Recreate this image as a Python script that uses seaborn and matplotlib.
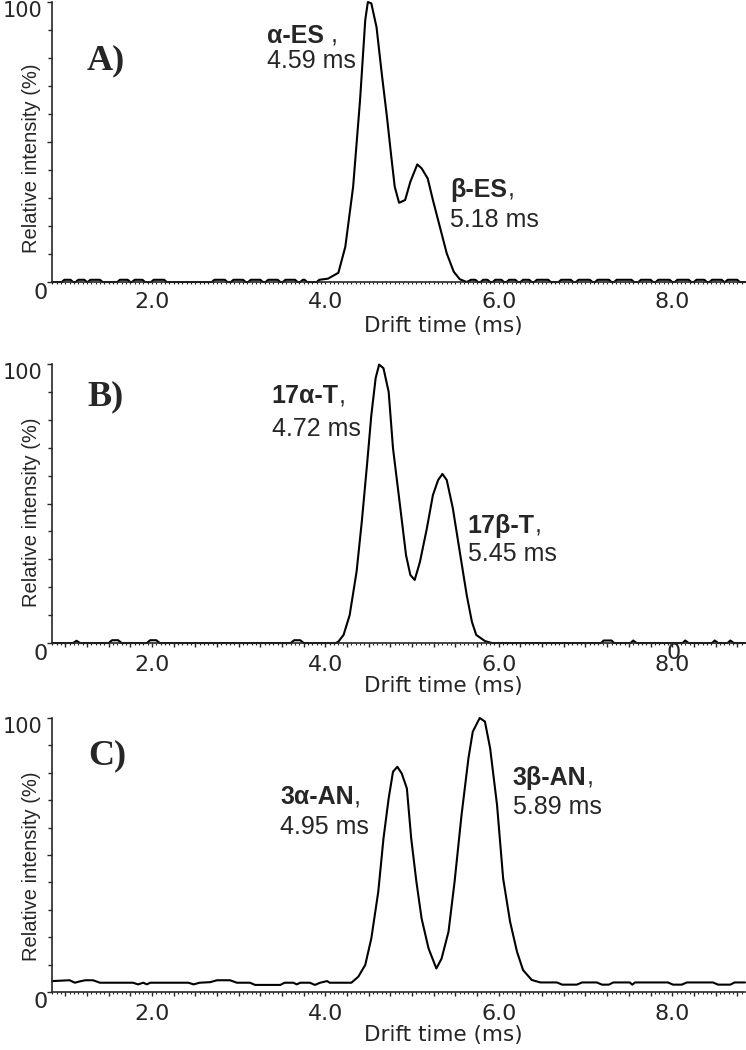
import matplotlib
matplotlib.use("Agg")
import matplotlib.pyplot as plt
import matplotlib.ticker as mticker
import pandas as pd
import seaborn as sns

# drift time (ms), relative intensity (%)
trace_a = [
    (0.85, 0), (0.96, 0), (0.99, 0.8), (1.06, 0.8), (1.09, 0), (1.12, 0), (1.15, 0.8), (1.22, 0.8),
    (1.25, 0), (1.26, 0), (1.29, 0.8), (1.40, 0.8), (1.43, 0), (1.60, 0), (1.63, 0.8), (1.72, 0.8),
    (1.75, 0), (1.77, 0), (1.80, 0.8), (1.89, 0.8), (1.92, 0), (1.99, 0), (2.02, 0.8), (2.14, 0.8),
    (2.17, 0), (2.69, 0), (2.72, 0.8), (2.84, 0.8), (2.87, 0), (2.91, 0), (2.94, 0.8), (3.05, 0.8),
    (3.08, 0), (3.11, 0), (3.14, 0.8), (3.25, 0.8), (3.28, 0), (3.31, 0), (3.34, 0.8), (3.45, 0.8),
    (3.48, 0), (3.51, 0), (3.54, 0.8), (3.65, 0.8), (3.68, 0), (3.71, 0), (3.74, 0.8), (3.76, 0.8),
    (3.79, 0), (3.90, 0), (3.93, 0.8), (4.03, 1.2),
    (4.15, 3.3), (4.23, 12.6), (4.32, 34), (4.40, 65), (4.46, 93.6), (4.49, 100), (4.53, 99.5),
    (4.59, 91), (4.65, 74.5), (4.71, 59), (4.76, 44.8), (4.80, 34), (4.85, 28.3), (4.92, 29.3),
    (4.98, 35.8), (5.06, 42), (5.11, 40.6), (5.18, 37), (5.24, 29.3), (5.32, 19.8), (5.40, 10.2),
    (5.48, 3.7), (5.55, 1.0), (5.63, 0),
    (5.68, 0.8), (5.73, 0.8), (5.76, 0), (5.79, 0), (5.82, 0.8), (5.87, 0.8), (5.90, 0), (5.93, 0),
    (5.96, 0.8), (6.03, 0.8), (6.06, 0), (6.09, 0), (6.12, 0.8), (6.19, 0.8), (6.22, 0), (6.25, 0),
    (6.28, 0.8), (6.35, 0.8), (6.38, 0), (6.41, 0), (6.44, 0.8), (6.57, 0.8), (6.60, 0), (6.69, 0),
    (6.72, 0.8), (6.83, 0.8), (6.86, 0), (6.89, 0), (6.92, 0.8), (7.05, 0.8), (7.08, 0), (7.11, 0),
    (7.14, 0.8), (7.27, 0.8), (7.30, 0), (7.33, 0), (7.36, 0.8), (7.53, 0.8), (7.56, 0), (7.61, 0),
    (7.64, 0.8), (7.75, 0.8), (7.78, 0), (7.81, 0), (7.84, 0.8), (7.97, 0.8), (8.00, 0), (8.03, 0),
    (8.06, 0.8), (8.19, 0.8), (8.22, 0), (8.25, 0), (8.28, 0.8), (8.37, 0.8), (8.40, 0), (8.43, 0),
    (8.46, 0.8), (8.57, 0.8), (8.60, 0), (8.61, 0), (8.64, 0.8), (8.75, 0.8), (8.78, 0), (8.84, 0),
]

trace_b = [
    (0.85, 0), (1.09, 0), (1.13, 0.8), (1.17, 0), (1.50, 0), (1.54, 1.0), (1.61, 1.0), (1.65, 0),
    (1.94, 0), (1.98, 1.0), (2.05, 1.0), (2.09, 0), (3.60, 0), (3.64, 1.0), (3.71, 1.0), (3.75, 0),
    (4.12, 0), (4.15, 0.5), (4.21, 2.9), (4.28, 10), (4.36, 25.6), (4.42, 43.5), (4.48, 63.8),
    (4.53, 81.7), (4.58, 95), (4.62, 99.8), (4.67, 98.5), (4.73, 90), (4.78, 69.8), (4.86, 49.5),
    (4.93, 31.5), (4.98, 24.4), (5.03, 22.6), (5.09, 29), (5.17, 41), (5.24, 53), (5.30, 58.4),
    (5.35, 60.6), (5.40, 58.4), (5.47, 48.3), (5.55, 32.7), (5.63, 17.2), (5.69, 7.6), (5.74, 2.9),
    (5.84, 0.7), (5.92, 0), (7.18, 0), (7.21, 0.9), (7.30, 0.9), (7.33, 0), (7.52, 0), (7.55, 0.9),
    (7.59, 0), (8.12, 0), (8.15, 0.9), (8.19, 0), (8.46, 0), (8.49, 0.9), (8.53, 0), (8.64, 0),
    (8.67, 0.9), (8.71, 0), (8.84, 0),
]

trace_c = [
    (0.85, 4.0), (1.05, 4.3), (1.11, 3.4), (1.17, 3.9), (1.23, 4.3), (1.32, 4.3), (1.40, 3.4),
    (1.78, 3.4), (1.84, 2.8), (1.90, 3.4), (1.94, 2.8), (1.98, 3.4), (2.42, 3.4), (2.48, 2.8),
    (2.55, 3.4), (2.67, 3.6), (2.75, 4.3), (2.90, 4.3), (2.98, 3.4), (3.13, 3.4), (3.19, 2.6),
    (3.48, 2.6), (3.53, 3.4), (3.63, 3.4), (3.67, 2.8), (3.71, 3.4), (3.82, 3.4), (3.88, 2.6),
    (3.94, 3.4), (4.02, 4.0), (4.05, 3.4), (4.30, 3.4),
    (4.38, 5.6), (4.46, 9.9), (4.53, 19.6), (4.61, 36.6), (4.67, 56), (4.73, 70.7), (4.78, 80.4),
    (4.83, 82.2), (4.88, 79.8), (4.94, 74.3), (4.99, 56), (5.05, 40.2), (5.11, 26.8), (5.19, 15.9),
    (5.28, 8.6), (5.34, 12.2), (5.42, 22), (5.49, 40.2), (5.57, 64.5), (5.65, 85.3), (5.70, 95),
    (5.78, 100), (5.84, 98.7), (5.90, 89), (5.98, 68.2), (6.05, 41.5), (6.13, 25.7), (6.21, 14.7),
    (6.28, 8), (6.38, 4.4),
    (6.48, 3.5), (6.67, 3.5), (6.73, 2.7), (6.90, 2.7), (6.96, 3.5), (7.13, 3.5), (7.19, 2.7),
    (7.27, 2.7), (7.32, 3.5), (7.51, 3.5), (7.54, 2.7), (7.57, 3.5), (7.95, 3.5), (8.01, 2.7),
    (8.11, 2.7), (8.17, 3.5), (8.47, 3.5), (8.53, 2.7), (8.67, 2.7), (8.72, 3.5), (8.84, 3.5),
]

panel_tags = ["A)", "B)", "C)"]
peak_names = [["α-ES", "β-ES"], ["17α-T", "17β-T"], ["3α-AN", "3β-AN"]]
name_commas = [[" ,", ","], [",", ","], [",", ","]]
peak_times = [["4.59 ms", "5.18 ms"], ["4.72 ms", "5.45 ms"], ["4.95 ms", "5.89 ms"]]
x_labels = [2.0, 4.0, 6.0, 8.0]

sns.set_style("ticks")
plt.rcParams["font.family"] = ["DejaVu Sans"]
plt.rcParams["axes.linewidth"] = 1.2

fig = plt.figure(figsize=(7.46, 10.5), dpi=100)

# axes boxes in figure fractions
boxes = [
    [0.0697, 0.7314, 0.9290, 0.2667],
    [0.0697, 0.3876, 0.9290, 0.2657],
    [0.0697, 0.0552, 0.9290, 0.2610],
]
# layout of the texts in data coords (x ms, y %)
tag_xy = [(1.25, 76.0), (1.26, 85.3), (1.26, 83.0)]
name_xy = [
    [(3.33, 85.4, 76.4), (5.44, 30.5, 19.8)],
    [(3.38, 85.9, 74.3), (5.64, 39.5, 29.5)],
    [(3.48, 68.5, 57.5), (6.16, 75.6, 64.8)],
]
ylabel_y = [0.443, 0.47, 0.46]


def even_label(v, pos):
    r = round(v)
    if abs(v - r) < 1e-6 and r in x_labels:
        return f"{v:.1f}"
    return ""


for i, trace in enumerate([trace_a, trace_b, trace_c]):
    df = pd.DataFrame(trace, columns=["time", "intensity"])
    ax = fig.add_axes(boxes[i])
    sns.lineplot(data=df, x="time", y="intensity", ax=ax, color="black",
                 linewidth=1.5, estimator=None, sort=False)
    ax.lines[-1].set_clip_on(False)

    ax.set_xlim(0.847, 8.84)
    ax.set_ylim(0, 100)
    sns.despine(ax=ax)

    # x ticks
    if i == 0:
        ax.xaxis.set_major_locator(mticker.FixedLocator(x_labels))
        ax.tick_params(axis="x", which="major", length=1.2, width=0.8)
    else:
        ax.xaxis.set_major_locator(mticker.MultipleLocator(0.25))
        ax.tick_params(axis="x", which="major", length=2.6, width=1.0)
    ax.xaxis.set_major_formatter(mticker.FuncFormatter(even_label))
    ax.xaxis.set_minor_locator(mticker.MultipleLocator(0.05))
    ax.tick_params(axis="x", which="minor", length=1.2, width=0.8)
    ax.tick_params(axis="x", which="major", labelsize=16, pad=6)

    # y ticks: every 10 %, labels only at the ends
    ax.yaxis.set_major_locator(mticker.FixedLocator([0, 50, 100]))
    ax.yaxis.set_minor_locator(mticker.MultipleLocator(10))
    ax.tick_params(axis="y", which="major", length=3.6, width=1.0, labelleft=False)
    ax.tick_params(axis="y", which="minor", length=2.6, width=1.0)
    ytr = ax.get_yaxis_transform()
    ax.text(-0.006, -3.8, "0", transform=ytr, ha="right", va="center", fontsize=16, clip_on=False)
    ax.text(-0.014, 96.8, "100", transform=ytr, ha="right", va="center", fontsize=15, clip_on=False)

    ax.set_xlabel("Drift time (ms)", fontsize=15.5)
    ax.xaxis.set_label_coords(0.564, -0.12)
    ax.set_ylabel("Relative intensity (%)", fontsize=14.5, family="Liberation Sans")
    ax.yaxis.set_label_coords(-0.016, ylabel_y[i])

    ax.text(tag_xy[i][0], tag_xy[i][1], panel_tags[i], family="Liberation Serif",
            fontweight="bold", fontsize=26, va="baseline")

    for k in range(2):
        x, y1, y2 = name_xy[i][k]
        t = ax.text(x, y1, peak_names[i][k], family="Liberation Sans", fontweight="bold",
                    fontsize=18, va="baseline")
        ax.annotate(name_commas[i][k], xy=(1, 0), xycoords=t, family="Liberation Sans",
                    fontsize=18, va="bottom", ha="left")
        ax.text(x, y2, peak_times[i][k], family="Liberation Sans", fontsize=18, va="baseline")

    if i == 1:
        # stray zero printed over the 8.0 label in the original
        ax.text(8.02, -3.6, "0", fontsize=16, ha="center", va="center", clip_on=False)

fig.savefig("out.png", dpi=100)
